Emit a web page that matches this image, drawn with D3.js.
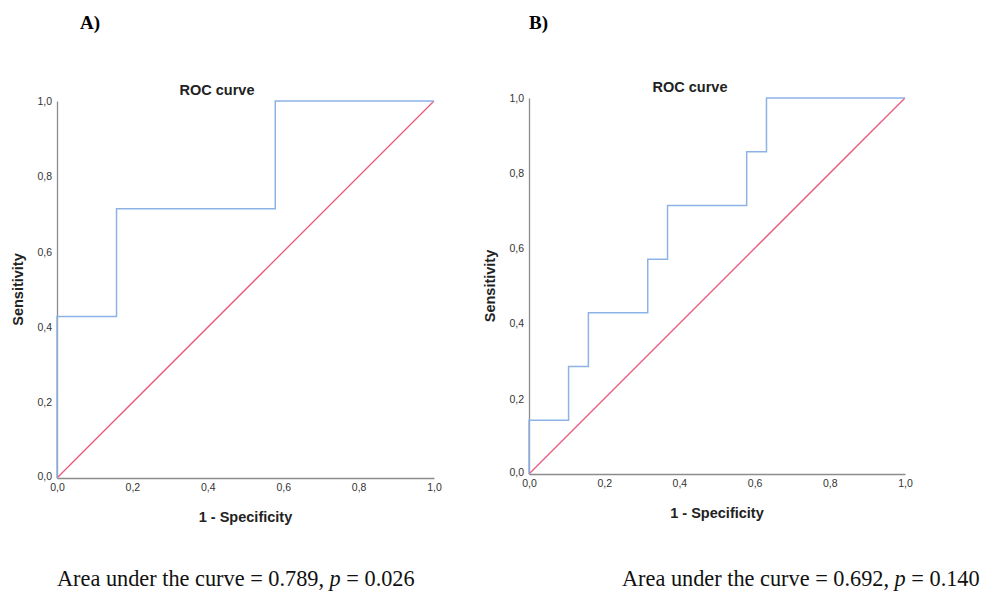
<!DOCTYPE html>
<html>
<head>
<meta charset="utf-8">
<script src="https://cdn.jsdelivr.net/npm/d3@7"></script>
<style>
  body { margin: 0; background: #fff; }
  svg { display: block; }
</style>
</head>
<body>
<svg id="chart" width="983" height="592"></svg>
<script>
// ROC steps (1 - specificity, sensitivity)
const fprA = [0, 0, 3/19, 3/19, 11/19, 11/19, 1];
const tprA = [0, 3/7, 3/7, 5/7, 5/7, 1, 1];
const fprB = [0, 0, 2/19, 2/19, 3/19, 3/19, 6/19, 6/19, 7/19, 7/19, 11/19, 11/19, 12/19, 12/19, 1];
const tprB = [0, 1/7, 1/7, 2/7, 2/7, 3/7, 3/7, 4/7, 4/7, 5/7, 5/7, 6/7, 6/7, 1, 1];
const ticks = [0, 0.2, 0.4, 0.6, 0.8, 1.0];
const panelLabels = ["A)", "B)"];
const captions = [["0.789", "0.026"], ["0.692", "0.140"]];

const svg = d3.select("#chart");
const comma = d3.formatLocale({decimal: ",", thousands: ".", grouping: [3], currency: ["", ""]}).format(".1f");
const sans = "Arial, 'Liberation Sans', sans-serif";
const serif = "'Liberation Serif', 'Times New Roman', serif";

function drawPanel(p) {
  const x = d3.scaleLinear().domain([0, 1]).range([p.left, p.right]);
  const y = d3.scaleLinear().domain([0, 1]).range([p.bottom, p.top]);
  const g = svg.append("g");

  // axes
  const xa = g.append("g")
    .attr("transform", `translate(0,${p.bottom})`)
    .call(d3.axisBottom(x).tickValues(ticks).tickFormat(comma).tickSize(0).tickPadding(6));
  const ya = g.append("g")
    .attr("transform", `translate(${p.left},0)`)
    .call(d3.axisLeft(y).tickValues(ticks).tickFormat(comma).tickSize(0).tickPadding(5));
  [xa, ya].forEach(a => {
    a.select(".domain").attr("stroke", "#8c8c8c").attr("stroke-width", 1.3);
    a.selectAll("text").attr("font-family", sans).attr("font-size", 10.5).attr("fill", "#333");
  });
  ya.select(".tick text").attr("dy", "0.1em");

  // reference diagonal
  g.append("line")
    .attr("x1", x(0)).attr("y1", y(0)).attr("x2", x(1)).attr("y2", y(1))
    .attr("stroke", "#e8587a").attr("stroke-width", 1.3);

  // ROC curve
  const line = d3.line().x(d => x(d[0])).y(d => y(d[1]));
  g.append("path")
    .datum(p.fpr.map((v, i) => [v, p.tpr[i]]))
    .attr("d", line)
    .attr("fill", "none").attr("stroke", "#8db3e6").attr("stroke-width", 1.5);

  // titles
  g.append("text").attr("x", p.titleX).attr("y", p.top - 6)
    .attr("text-anchor", "middle").attr("font-family", sans)
    .attr("font-weight", "bold").attr("font-size", 14.5).attr("fill", "#222").text("ROC curve");
  g.append("text").attr("x", (p.left + p.right) / 2).attr("y", p.bottom + 44)
    .attr("text-anchor", "middle").attr("font-family", sans)
    .attr("font-weight", "bold").attr("font-size", 14.5).attr("fill", "#222").text("1 - Specificity");
  g.append("text")
    .attr("transform", `translate(${p.left - 34},${(p.top + p.bottom) / 2}) rotate(-90)`)
    .attr("text-anchor", "middle").attr("font-family", sans)
    .attr("font-weight", "bold").attr("font-size", 14.5).attr("fill", "#222").text("Sensitivity");

  // panel letter
  g.append("text").attr("x", p.labelX).attr("y", 29)
    .attr("font-family", serif)
    .attr("font-weight", "bold").attr("font-size", 19).attr("fill", "#000").text(p.label);

  // caption
  const cap = g.append("text").attr("x", p.capX).attr("y", 586)
    .attr("font-family", serif)
    .attr("font-size", 22.3).attr("fill", "#111");
  cap.append("tspan").text(`Area under the curve = ${p.cap[0]}, `);
  cap.append("tspan").attr("font-style", "italic").text("p");
  cap.append("tspan").text(` = ${p.cap[1]}`);
}

drawPanel({left: 57, right: 434, top: 101, bottom: 478, titleX: 217, labelX: 80,
  label: panelLabels[0], fpr: fprA, tpr: tprA, cap: captions[0], capX: 57});
drawPanel({left: 529, right: 905, top: 98, bottom: 474, titleX: 690, labelX: 529,
  label: panelLabels[1], fpr: fprB, tpr: tprB, cap: captions[1], capX: 622});
</script>
</body>
</html>
